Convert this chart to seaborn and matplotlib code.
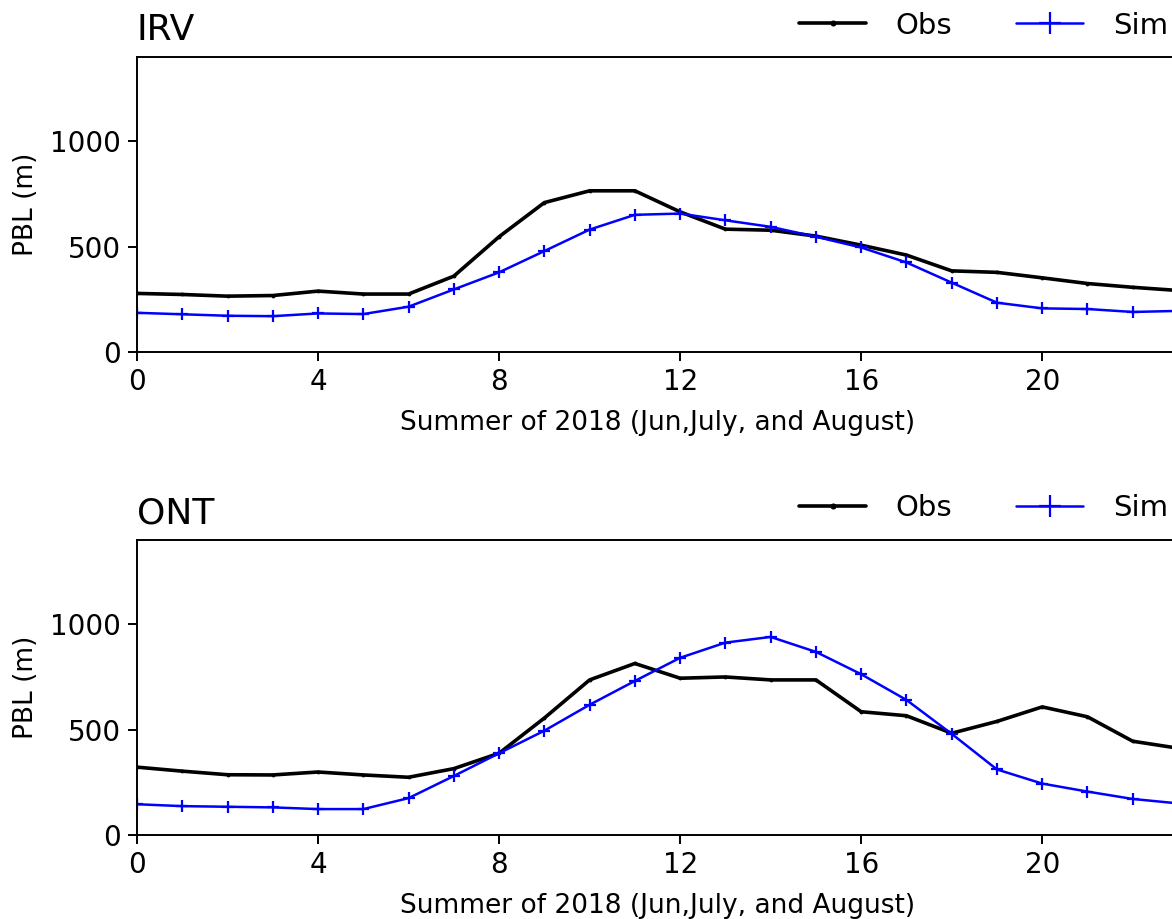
import numpy as np
import pandas as pd
import matplotlib
matplotlib.use("Agg")
import matplotlib.pyplot as plt
import seaborn as sns

hours = list(range(24))
irv_obs = [278, 273, 265, 268, 289, 275, 275, 360, 547, 709, 765, 765,
           665, 583, 578, 550, 507, 460, 385, 378, 352, 325, 307, 292]
irv_sim = [186, 179, 172, 170, 183, 180, 215, 297, 378, 479, 581, 651,
           657, 625, 594, 547, 496, 425, 329, 234, 207, 204, 190, 195]
ont_obs = [322, 303, 286, 285, 299, 285, 274, 315, 388, 555, 736, 814,
           744, 750, 736, 736, 585, 566, 483, 539, 608, 561, 445, 412]
ont_sim = [146, 137, 134, 131, 123, 123, 175, 280, 388, 495, 618, 731,
           841, 913, 940, 869, 763, 641, 480, 311, 244, 206, 171, 150]
sites = ["IRV", "ONT"]
xticks = [0, 4, 8, 12, 16, 20]
yticks = [0, 500, 1000]
xlabel = "Summer of 2018 (Jun,July, and August)"
ylabel = "PBL (m)"

sns.set_theme(style="ticks")
plt.rcParams["font.family"] = ["DejaVu Sans"]
plt.rcParams.update({
    "axes.linewidth": 1.4,
    "xtick.major.width": 1.4,
    "ytick.major.width": 1.4,
    "xtick.major.size": 6.5,
    "ytick.major.size": 6.5,
    "text.color": "black",
    "axes.labelcolor": "black",
    "axes.edgecolor": "black",
    "xtick.color": "black",
    "ytick.color": "black",
    "axes.titlecolor": "black",
})

fig = plt.figure(figsize=(11.72, 9.19), dpi=100)
W, H = 1172, 919
left = 137 / W
width = (1178 - 137) / W
positions = [(left, (H - 352) / H, width, 295 / H),
             (left, (H - 835) / H, width, 295 / H)]

data = {"IRV": (irv_obs, irv_sim), "ONT": (ont_obs, ont_sim)}

for site, pos in zip(sites, positions):
    ax = fig.add_axes(pos)
    obs, sim = data[site]
    df = pd.DataFrame({"hour": hours, "Obs": obs, "Sim": sim})
    sns.lineplot(data=df, x="hour", y="Obs", ax=ax, color="black",
                 marker=".", markersize=4, markeredgecolor="black",
                 markerfacecolor="black", linewidth=2.6, label="Obs")
    sns.lineplot(data=df, x="hour", y="Sim", ax=ax, color="blue",
                 marker="+", markersize=9, markeredgewidth=1.6,
                 markeredgecolor="blue", linewidth=1.8, label="Sim")
    ax.set_xlim(0, 23)
    ax.set_ylim(0, 1400)
    ax.set_xticks(xticks)
    ax.set_yticks(yticks)
    ax.tick_params(labelsize=20, pad=5)
    ax.set_xlabel(xlabel, fontsize=19, labelpad=10)
    ax.set_ylabel(ylabel, fontsize=19, labelpad=8)
    ax.set_title(site, loc="left", fontsize=26, pad=12)
    ax.legend(loc="lower right", bbox_to_anchor=(1.007, 1.0), ncol=2,
              frameon=False, fontsize=21, borderaxespad=0.2,
              handlelength=2.3, columnspacing=2.2, handletextpad=1.0,
              markerscale=1.8)

fig.savefig("out.png", dpi=100)
